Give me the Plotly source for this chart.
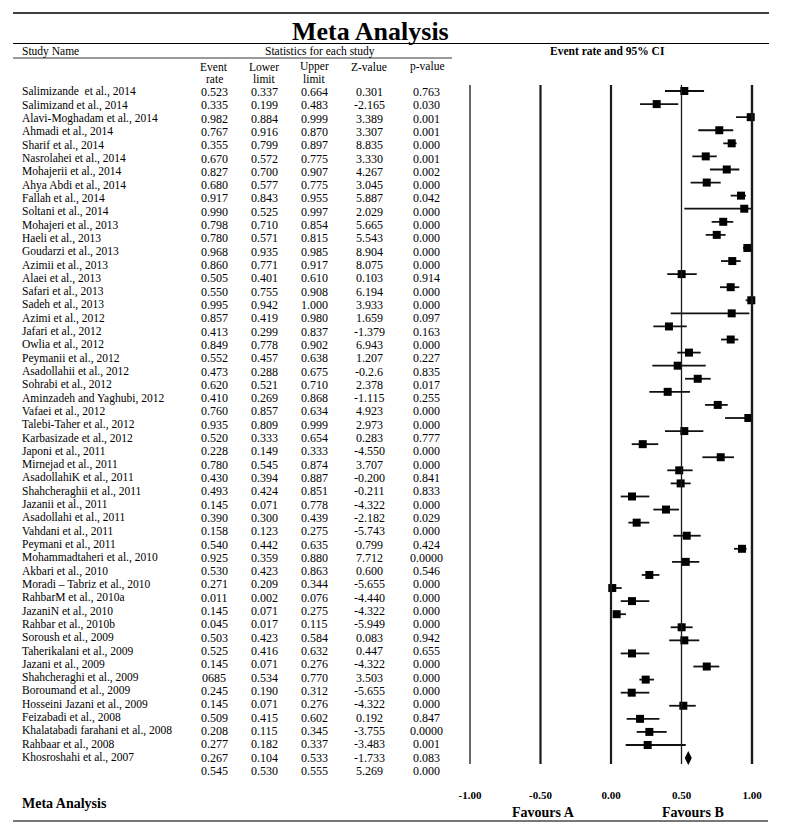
import plotly.graph_objects as go

W, H = 787, 833
FONT = "Liberation Serif"

study_names = [
    "Salimizande  et al., 2014", "Salimizand et al., 2014", "Alavi-Moghadam et al., 2014",
    "Ahmadi et al., 2014", "Sharif et al., 2014", "Nasrolahei et al., 2014",
    "Mohajerii et al., 2014", "Ahya Abdi et al., 2014", "Fallah et al., 2014",
    "Soltani et al., 2014", "Mohajeri et al., 2013", "Haeli et al., 2013",
    "Goudarzi et al., 2013", "Azimii et al., 2013", "Alaei et al., 2013",
    "Safari et al., 2013", "Sadeh et al., 2013", "Azimi et al., 2012",
    "Jafari et al., 2012", "Owlia et al., 2012", "Peymanii et al., 2012",
    "Asadollahii et al., 2012", "Sohrabi et al., 2012", "Aminzadeh and Yaghubi, 2012",
    "Vafaei et al., 2012", "Talebi-Taher et al., 2012", "Karbasizade et al., 2012",
    "Japoni et al., 2011", "Mirnejad et al., 2011", "AsadollahiK et al., 2011",
    "Shahcheraghii et al., 2011", "Jazanii et al., 2011", "Asadollahi et al., 2011",
    "Vahdani et al., 2011", "Peymani et al., 2011", "Mohammadtaheri et al., 2010",
    "Akbari et al., 2010", "Moradi – Tabriz et al., 2010", "RahbarM et al., 2010a",
    "JazaniN et al., 2010", "Rahbar et al., 2010b", "Soroush et al., 2009",
    "Taherikalani et al., 2009", "Jazani et al., 2009", "Shahcheraghi et al., 2009",
    "Boroumand et al., 2009", "Hosseini Jazani et al., 2009", "Feizabadi et al., 2008",
    "Khalatabadi farahani et al., 2008", "Rahbaar et al., 2008", "Khosroshahi et al., 2007",
    "",
]

col_event = ["0.523","0.335","0.982","0.767","0.355","0.670","0.827","0.680","0.917","0.990",
             "0.798","0.780","0.968","0.860","0.505","0.550","0.995","0.857","0.413","0.849",
             "0.552","0.473","0.620","0.410","0.760","0.935","0.520","0.228","0.780","0.430",
             "0.493","0.145","0.390","0.158","0.540","0.925","0.530","0.271","0.011","0.145",
             "0.045","0.503","0.525","0.145","0685","0.245","0.145","0.509","0.208","0.277",
             "0.267","0.545"]
col_lower = ["0.337","0.199","0.884","0.916","0.799","0.572","0.700","0.577","0.843","0.525",
             "0.710","0.571","0.935","0.771","0.401","0.755","0.942","0.419","0.299","0.778",
             "0.457","0.288","0.521","0.269","0.857","0.809","0.333","0.149","0.545","0.394",
             "0.424","0.071","0.300","0.123","0.442","0.359","0.423","0.209","0.002","0.071",
             "0.017","0.423","0.416","0.071","0.534","0.190","0.071","0.415","0.115","0.182",
             "0.104","0.530"]
col_upper = ["0.664","0.483","0.999","0.870","0.897","0.775","0.907","0.775","0.955","0.997",
             "0.854","0.815","0.985","0.917","0.610","0.908","1.000","0.980","0.837","0.902",
             "0.638","0.675","0.710","0.868","0.634","0.999","0.654","0.333","0.874","0.887",
             "0.851","0.778","0.439","0.275","0.635","0.880","0.863","0.344","0.076","0.275",
             "0.115","0.584","0.632","0.276","0.770","0.312","0.276","0.602","0.345","0.337",
             "0.533","0.555"]
col_z = ["0.301","-2.165","3.389","3.307","8.835","3.330","4.267","3.045","5.887","2.029",
         "5.665","5.543","8.904","8.075","0.103","6.194","3.933","1.659","-1.379","6.943",
         "1.207","-0.2.6","2.378","-1.115","4.923","2.973","0.283","-4.550","3.707","-0.200",
         "-0.211","-4.322","-2.182","-5.743","0.799","7.712","0.600","-5.655","-4.440","-4.322",
         "-5.949","0.083","0.447","-4.322","3.503","-5.655","-4.322","0.192","-3.755","-3.483",
         "-1.733","5.269"]
col_p = ["0.763","0.030","0.001","0.001","0.000","0.001","0.002","0.000","0.042","0.000",
         "0.000","0.000","0.000","0.000","0.914","0.000","0.000","0.097","0.163","0.000",
         "0.227","0.835","0.017","0.255","0.000","0.000","0.777","0.000","0.000","0.841",
         "0.833","0.000","0.029","0.000","0.424","0.0000","0.546","0.000","0.000","0.000",
         "0.000","0.942","0.655","0.000","0.000","0.000","0.000","0.847","0.0000","0.001",
         "0.083","0.000"]

# values as drawn in the forest plot
plot_rate = [0.520,0.324,0.991,0.768,0.856,0.672,0.821,0.679,0.922,0.945,
             0.796,0.750,0.967,0.860,0.501,0.849,0.995,0.856,0.411,0.849,
             0.553,0.473,0.615,0.402,0.757,0.974,0.520,0.225,0.778,0.484,
             0.494,0.149,0.390,0.182,0.537,0.929,0.530,0.272,0.009,0.149,
             0.040,0.501,0.520,0.149,0.679,0.246,0.147,0.513,0.206,0.272,
             0.260]
plot_lo = [0.383,0.206,0.887,0.619,0.796,0.577,0.702,0.565,0.849,0.520,
           0.714,0.672,0.936,0.780,0.399,0.773,0.955,0.423,0.300,0.780,
           0.470,0.293,0.525,0.272,0.667,0.809,0.383,0.147,0.648,0.399,
           0.423,0.069,0.300,0.123,0.442,0.872,0.433,0.218,0.000,0.069,
           0.016,0.423,0.413,0.069,0.584,0.201,0.069,0.413,0.111,0.182,
           0.104]
plot_hi = [0.660,0.477,1.000,0.867,0.891,0.750,0.910,0.778,0.957,0.998,
           0.867,0.813,0.998,0.920,0.608,0.910,1.000,0.981,0.537,0.903,
           0.636,0.672,0.707,0.560,0.828,0.986,0.655,0.335,0.872,0.579,
           0.565,0.272,0.482,0.272,0.636,0.962,0.626,0.343,0.076,0.272,
           0.106,0.579,0.626,0.272,0.768,0.305,0.272,0.601,0.343,0.395,
           0.530]
summary_rate = 0.548

axis_ticks = [-1.0, -0.5, 0.0, 0.5, 1.0]
axis_tick_text = ["-1.00", "-0.50", "0.00", "0.50", "1.00"]
line_widths = [1.3, 2.2, 2.2, 1.3, 2.4]


def px(x):
    return x / W


def py(y):
    return 1 - y / H


n = len(plot_rate)
rows = list(range(1, n + 1))
ci_x, ci_y = [], []
for lo, hi, r in zip(plot_lo, plot_hi, rows):
    ci_x += [lo, hi, None]
    ci_y += [r, r, None]

fig = go.Figure()
fig.add_trace(go.Scatter(x=ci_x, y=ci_y, mode="lines",
                         line=dict(color="#111111", width=1.8),
                         hoverinfo="skip", cliponaxis=False))
fig.add_trace(go.Scatter(x=plot_rate, y=rows, mode="markers",
                         marker=dict(symbol="square", size=8, color="black"),
                         cliponaxis=False))
fig.add_trace(go.Scatter(x=[summary_rate], y=[n + 1], mode="markers",
                         marker=dict(symbol="diamond-tall", size=10, color="black"),
                         cliponaxis=False))

# axis mapping: -1 -> 470 px, 1 -> 752 px
ppu = (752 - 470) / 2.0
x_lo_val, x_hi_val = -1.1, 1.1
dom_x0 = px(470 + (x_lo_val + 1) * ppu)
dom_x1 = px(470 + (x_hi_val + 1) * ppu)
row_top, row_step = 91.0, 13.08
y_top_px = row_top - 0.5 * row_step
y_bot_px = row_top + (n + 0.5) * row_step

fig.update_layout(
    width=W, height=H, margin=dict(l=0, r=0, t=0, b=0),
    paper_bgcolor="white", plot_bgcolor="white", showlegend=False,
    font=dict(family=FONT, color="black"),
    xaxis=dict(domain=[dom_x0, dom_x1], range=[x_lo_val, x_hi_val],
               showgrid=False, zeroline=False, showline=False,
               tickvals=axis_ticks, ticktext=["<b>%s</b>" % t for t in axis_tick_text],
               ticks="", ticklabelstandoff=22,
               tickfont=dict(family=FONT, size=11, color="black")),
    yaxis=dict(domain=[py(y_bot_px), py(y_top_px)], range=[n + 1.5, 0.5],
               visible=False),
)

shapes = []
for v, w in zip(axis_ticks, line_widths):
    shapes.append(dict(type="line", xref="x", yref="paper", x0=v, x1=v,
                       y0=py(764), y1=py(85), line=dict(color="#1a1a1a", width=w)))
# rules
shapes.append(dict(type="line", xref="paper", yref="paper", x0=px(13), x1=px(769),
                   y0=py(13), y1=py(13), line=dict(color="black", width=1.6)))
shapes.append(dict(type="line", xref="paper", yref="paper", x0=px(13), x1=px(769),
                   y0=py(43.5), y1=py(43.5), line=dict(color="black", width=1.2)))
shapes.append(dict(type="line", xref="paper", yref="paper", x0=px(13), x1=px(452),
                   y0=py(58), y1=py(58), line=dict(color="black", width=0.8)))
shapes.append(dict(type="line", xref="paper", yref="paper", x0=px(13), x1=px(768),
                   y0=py(821), y1=py(821), line=dict(color="#777777", width=2)))
fig.update_layout(shapes=shapes)

ann = []


def text(x, y, s, size=12, anchor="center", bold=False, color="black"):
    ann.append(dict(xref="paper", yref="paper", x=px(x), y=py(y),
                    text=("<b>%s</b>" % s) if bold else s, showarrow=False,
                    xanchor=anchor, yanchor="middle",
                    font=dict(family=FONT, size=size, color=color)))


text(370, 32, "Meta Analysis", size=26, bold=True)
text(20, 51.5, "Study Name", size=11.5, anchor="left")
text(320, 51.5, "Statistics for each study", size=11.5)
text(607, 51.5, "Event rate and 95% CI", size=11.5, bold=True)

col_x = [214, 264, 314, 369, 427]
header1 = ["Event", "Lower", "Upper", "Z-value", "p-value"]
header2 = ["rate", "limit", "limit", "", ""]
for cx, h1, h2 in zip(col_x, header1, header2):
    text(cx, 67, h1, size=11.5)
    if h2:
        text(cx, 79, h2, size=11.5)

table_top, table_step = 92.0, 13.31
cols = [col_event, col_lower, col_upper, col_z, col_p]
for i, name in enumerate(study_names):
    ry = table_top + i * table_step
    if name:
        text(20, ry, name, size=11.5, anchor="left")
    for cx, col in zip(col_x, cols):
        text(cx, ry, col[i], size=12)

text(20, 803, "Meta Analysis", size=14, anchor="left", bold=True)
text(543, 812, "Favours A", size=14, bold=True)
text(693, 812, "Favours B", size=14, bold=True)
fig.update_layout(annotations=ann)

fig.write_html("out.html",
               config={"displayModeBar": False},
               post_script="document.body.style.margin='0px';"
                           "document.body.style.overflow='hidden';")
